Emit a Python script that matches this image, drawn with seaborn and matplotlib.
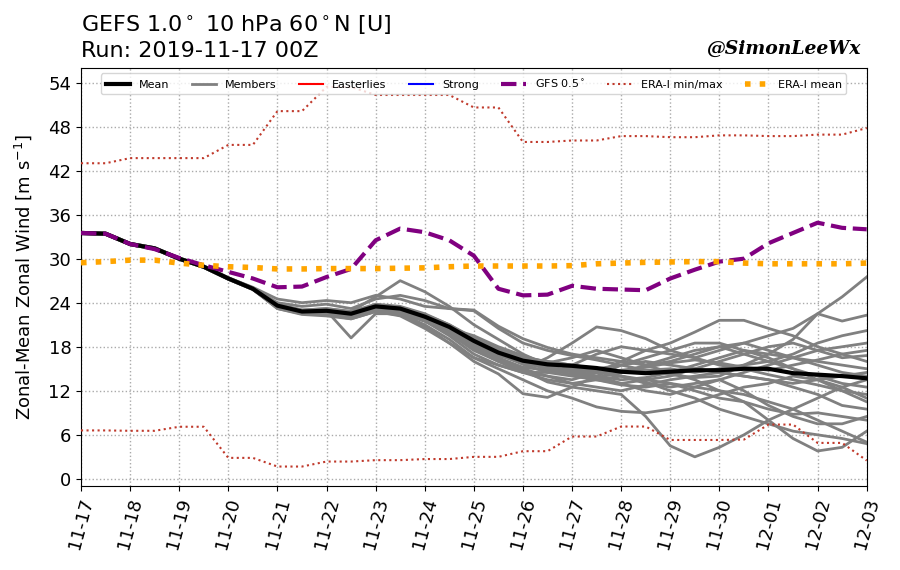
import numpy as np
import pandas as pd
import matplotlib
matplotlib.use("Agg")
import matplotlib.pyplot as plt
import seaborn as sns
from matplotlib.lines import Line2D

# ---------------- data (12-hourly, 2019-11-17 00Z .. 2019-12-03 00Z) ----------------
times = pd.date_range("2019-11-17 00:00", periods=33, freq="12h")
tick_labels = ["11-17", "11-18", "11-19", "11-20", "11-21", "11-22", "11-23", "11-24",
               "11-25", "11-26", "11-27", "11-28", "11-29", "11-30", "12-01", "12-02", "12-03"]
yticks = [0, 6, 12, 18, 24, 30, 36, 42, 48, 54]

ens_mean = [33.5, 33.4, 32.0, 31.4, 30.0, 28.9, 27.3, 25.9, 23.6, 22.8, 22.9, 22.5, 23.5, 23.2,
            22.1, 20.7, 18.8, 17.2, 16.1, 15.6, 15.4, 15.1, 14.6, 14.4, 14.6, 14.8, 14.8, 15.0,
            15.0, 14.4, 14.2, 14.0, 13.7]

gfs05 = [33.5, 33.4, 32.0, 31.3, 30.1, 29.1, 28.2, 27.3, 26.1, 26.2, 27.5, 28.6, 32.5, 34.1,
         33.6, 32.5, 30.4, 25.9, 25.0, 25.1, 26.3, 25.9, 25.8, 25.7, 27.3, 28.5, 29.6, 30.0,
         32.1, 33.5, 34.9, 34.2, 34.0]

era_max = [43.0, 43.0, 43.7, 43.7, 43.7, 43.7, 45.5, 45.5, 50.1, 50.1, 53.4, 53.4, 52.3, 52.3,
           52.3, 52.3, 50.6, 50.6, 45.9, 45.9, 46.1, 46.1, 46.7, 46.7, 46.55, 46.55, 46.8, 46.8,
           46.7, 46.7, 46.9, 46.9, 47.8]

era_min = [6.6, 6.6, 6.55, 6.55, 7.1, 7.1, 2.86, 2.86, 1.68, 1.68, 2.36, 2.36, 2.55, 2.55,
           2.7, 2.7, 3.0, 3.0, 3.77, 3.77, 5.77, 5.77, 7.13, 7.13, 5.3, 5.3, 5.3, 5.35, 7.4, 7.4,
           4.9, 4.9, 2.5]

era_mean = [29.45, 29.6, 29.8, 29.8, 29.4, 29.1, 28.9, 28.8, 28.6, 28.6, 28.65, 28.65, 28.65,
            28.7, 28.75, 28.9, 29.0, 29.0, 29.0, 29.0, 29.05, 29.3, 29.4, 29.5, 29.55, 29.6,
            29.6, 29.4, 29.3, 29.3, 29.3, 29.3, 29.4]

members = [
    [33.6,33.5,32.1,31.5,30.1,29.0,27.4,26.0, 24.0,23.5,23.8,23.2,24.5,25.0,24.3,23.2,22.9, 20.5,18.5,17.5,16.8,16.2,15.5,14.8,14.2,13.8,14.0,15.5,17.0,19.0,22.5,24.8,27.5],
    [33.4,33.3,31.9,31.3,29.9,28.8,27.2,25.8, 23.4,22.6,23.0,22.4,23.6,23.0,21.8,20.0,18.2, 17.0,16.5,16.0,15.5,17.0,18.0,17.5,17.0,16.5,17.5,18.5,19.5,20.5,22.5,21.5,22.3],
    [33.5,33.4,32.0,31.4,30.0,28.9,27.3,25.9, 23.5,22.9,22.7,22.3,23.2,22.8,21.5,19.8,17.5, 16.0,15.0,16.5,18.5,20.7,20.2,19.1,17.5,16.5,15.5,15.0,14.2,13.5,12.8,12.0,11.5],
    [33.5,33.3,32.0,31.3,30.0,28.8,27.2,25.9, 23.2,22.5,22.5,22.0,23.0,22.5,21.0,19.0,16.5, 15.5,14.5,14.0,13.5,14.5,16.0,17.5,18.5,20.0,21.6,21.6,20.5,19.5,18.0,17.0,16.0],
    [33.5,33.4,32.0,31.4,30.0,28.9,27.2,25.8, 23.3,22.7,22.6,22.4,23.3,23.0,21.8,20.0,18.0, 16.2,14.8,13.2,12.5,12.0,11.5,8.5,4.5,3.0,4.3,6.0,8.0,9.5,11.0,12.5,13.5],
    [33.4,33.3,31.9,31.3,29.9,28.8,27.3,25.9, 23.6,22.8,22.9,22.5,23.4,23.1,22.0,20.6,18.8, 17.0,15.6,14.5,14.0,13.5,12.8,12.5,13.0,12.0,11.0,10.5,8.0,5.5,3.8,4.3,6.5],
    [33.6,33.5,32.1,31.5,30.1,29.0,27.4,26.0, 23.8,23.0,23.2,22.8,23.8,23.5,22.5,21.0,19.0, 17.5,16.2,15.0,14.2,13.5,13.0,13.5,13.0,12.5,12.0,11.5,10.5,9.5,8.0,6.5,5.0],
    [33.5,33.4,32.0,31.4,30.0,28.9,27.3,25.9, 23.4,22.6,22.4,21.8,22.8,22.2,20.5,18.5,16.5, 15.0,13.5,12.0,11.0,9.8,9.2,9.0,9.5,10.5,11.5,12.5,13.0,14.0,13.5,12.5,11.0],
    [33.5,33.4,32.0,31.4,30.0,28.9,27.3,25.9, 23.5,22.8,22.9,19.2,22.5,22.5,21.5,20.5,19.5, 18.0,16.8,15.8,16.5,17.5,16.5,15.5,16.5,17.5,18.0,17.0,16.0,15.0,14.0,13.0,12.5],
    [33.5,33.4,32.0,31.4,30.0,28.9,27.3,25.9, 23.7,23.0,23.2,22.8,24.8,27.0,25.5,23.5,21.0, 19.0,17.0,15.5,14.5,14.0,13.5,13.8,14.5,15.5,16.5,17.5,17.0,16.5,16.0,15.5,15.0],
    [33.6,33.5,32.1,31.5,30.1,29.0,27.4,26.1, 24.5,24.0,24.3,24.0,25.0,24.5,23.5,23.2,23.0, 20.8,19.1,17.9,17.0,16.5,16.0,15.5,16.0,17.0,18.0,18.5,17.5,16.5,15.5,14.5,14.0],
    [33.4,33.3,31.9,31.3,29.9,28.8,27.2,25.8, 23.2,22.4,22.2,21.8,22.8,22.3,20.8,18.5,16.0, 14.3,11.6,11.1,12.5,14.0,15.5,16.5,17.5,18.5,18.5,17.5,16.5,15.0,13.5,12.0,10.5],
    [33.5,33.4,32.0,31.4,30.0,28.9,27.3,25.9, 23.6,22.9,23.0,22.6,23.6,23.3,22.3,20.8,18.8, 17.3,16.0,15.5,15.5,15.0,14.5,14.8,15.0,14.5,15.0,15.5,16.0,17.0,18.5,19.5,20.2],
    [33.5,33.4,32.0,31.4,30.0,28.9,27.3,25.9, 23.5,22.8,22.8,22.4,23.4,23.0,21.8,20.2,18.3, 16.5,15.2,14.8,15.0,14.8,14.0,13.0,12.5,13.0,13.5,14.5,15.5,16.5,17.5,18.0,18.5],
    [33.5,33.4,32.0,31.4,30.0,28.9,27.3,25.9, 23.4,22.7,22.9,22.5,23.5,23.0,22.0,20.5,18.5, 17.0,15.8,15.0,14.2,13.8,14.5,15.5,14.5,13.5,12.0,10.5,9.5,8.8,9.0,8.5,8.0],
    [33.5,33.4,32.0,31.4,30.0,28.9,27.3,25.9, 23.6,22.9,23.1,22.7,23.7,23.4,22.4,21.0,19.2, 17.8,16.5,15.8,15.0,14.5,14.0,13.5,14.0,15.0,16.0,17.0,18.0,18.5,17.5,16.5,16.8],
    [33.5,33.4,32.0,31.4,30.0,28.9,27.3,25.9, 23.3,22.6,22.6,22.3,23.2,22.8,21.5,19.5,17.0, 15.5,14.5,14.5,14.8,14.0,13.0,12.0,11.5,12.5,13.5,12.0,10.0,8.5,7.5,7.5,8.5],
    [33.5,33.4,32.0,31.4,30.0,28.9,27.3,25.9, 23.5,22.9,23.0,22.5,23.4,23.2,22.2,20.8,19.0, 17.5,16.5,16.0,15.5,15.0,15.5,16.0,15.5,15.0,14.5,14.0,13.5,13.0,13.5,14.0,14.5],
    [33.5,33.4,32.0,31.4,30.0,28.9,27.3,25.9, 23.4,22.8,22.8,22.4,23.3,23.0,21.7,19.8,17.8, 16.2,15.0,14.0,13.0,12.5,12.0,12.8,13.5,14.0,14.5,14.0,13.5,12.5,11.5,10.0,9.5],
    [33.5,33.4,32.0,31.4,30.0,28.9,27.3,25.9, 23.6,22.8,22.9,22.6,23.4,23.0,21.8,20.2,18.0, 16.8,15.8,15.2,14.8,14.5,14.8,15.2,15.8,16.2,15.8,15.2,14.8,15.5,16.2,17.0,17.5],
    [33.5,33.4,32.0,31.4,30.0,28.9,27.3,25.9, 23.4,22.7,22.7,22.3,23.3,22.9,21.6,20.0,17.8, 16.0,14.5,13.5,13.0,13.5,14.0,13.2,12.0,11.0,9.5,8.5,7.5,6.5,6.0,5.5,4.8],
]

# ---------------- figure ----------------
fig = plt.figure(figsize=(9, 5.7), dpi=100)
ax = fig.add_axes([0.09, 0.147, 0.873, 0.734])

mem_df = pd.DataFrame({
    "time": np.tile(times, len(members)),
    "u": np.concatenate([np.asarray(m, float) for m in members]),
    "member": np.repeat(np.arange(len(members)), len(times)),
})
sns.lineplot(data=mem_df, x="time", y="u", units="member", estimator=None,
             color="gray", lw=2, ax=ax, legend=False, zorder=2)

sns.lineplot(x=times, y=ens_mean, color="black", lw=3, ax=ax, zorder=4)
sns.lineplot(x=times, y=gfs05, color="purple", lw=3, ls="--", ax=ax, zorder=5)
sns.lineplot(x=times, y=era_max, color="#c0392b", lw=1.5, ls=":", ax=ax, zorder=5)
sns.lineplot(x=times, y=era_min, color="#c0392b", lw=1.5, ls=":", ax=ax, zorder=5)
sns.lineplot(x=times, y=era_mean, color="orange", lw=4, ls=":", ax=ax, zorder=6)

ax.set_xlim(times[0], times[-1])
ax.set_ylim(-1, 56)
ax.set_yticks(yticks)
ax.tick_params(axis="y", labelsize=13)
tick_pos = pd.date_range("2019-11-17", periods=len(tick_labels), freq="D")
ax.set_xticks(tick_pos)
ax.set_xticklabels(tick_labels, rotation=75, fontsize=13)
ax.grid(True, ls=":", color="#aaaaaa", lw=1)
ax.set_axisbelow(True)
ax.set_xlabel("")
ax.set_ylabel("Zonal-Mean Zonal Wind [m s$^{-1}$]", fontsize=13, labelpad=10)

fig.text(0.0905, 1 - 31.7 / 570, "GEFS 1.0$^\\circ$ 10 hPa 60$^\\circ$N [U]",
         fontsize=16, ha="left", va="baseline")
fig.text(0.0905, 1 - 57.3 / 570, "Run: 2019-11-17 00Z",
         fontsize=16, ha="left", va="baseline")
fig.text(860 / 900, 1 - 54 / 570, "@SimonLeeWx", fontsize=13.5, fontweight="bold",
         fontstyle="italic", family="DejaVu Serif", ha="right", va="baseline")

handles = [
    Line2D([], [], color="black", lw=3),
    Line2D([], [], color="gray", lw=2),
    Line2D([], [], color="red", lw=1.5),
    Line2D([], [], color="blue", lw=1.5),
    Line2D([], [], color="purple", lw=3, ls="--"),
    Line2D([], [], color="#c0392b", lw=1.5, ls=":"),
    Line2D([], [], color="orange", lw=4, ls=":"),
]
labels = ["Mean", "Members", "Easterlies", "Strong", "GFS 0.5$^\\circ$", "ERA-I min/max", "ERA-I mean"]
ax.legend(handles, labels, loc="upper center", ncol=7, fontsize=8,
          framealpha=0.8, handlelength=2.2, columnspacing=2.0, borderaxespad=0.5)

fig.savefig("out.png", dpi=100)
